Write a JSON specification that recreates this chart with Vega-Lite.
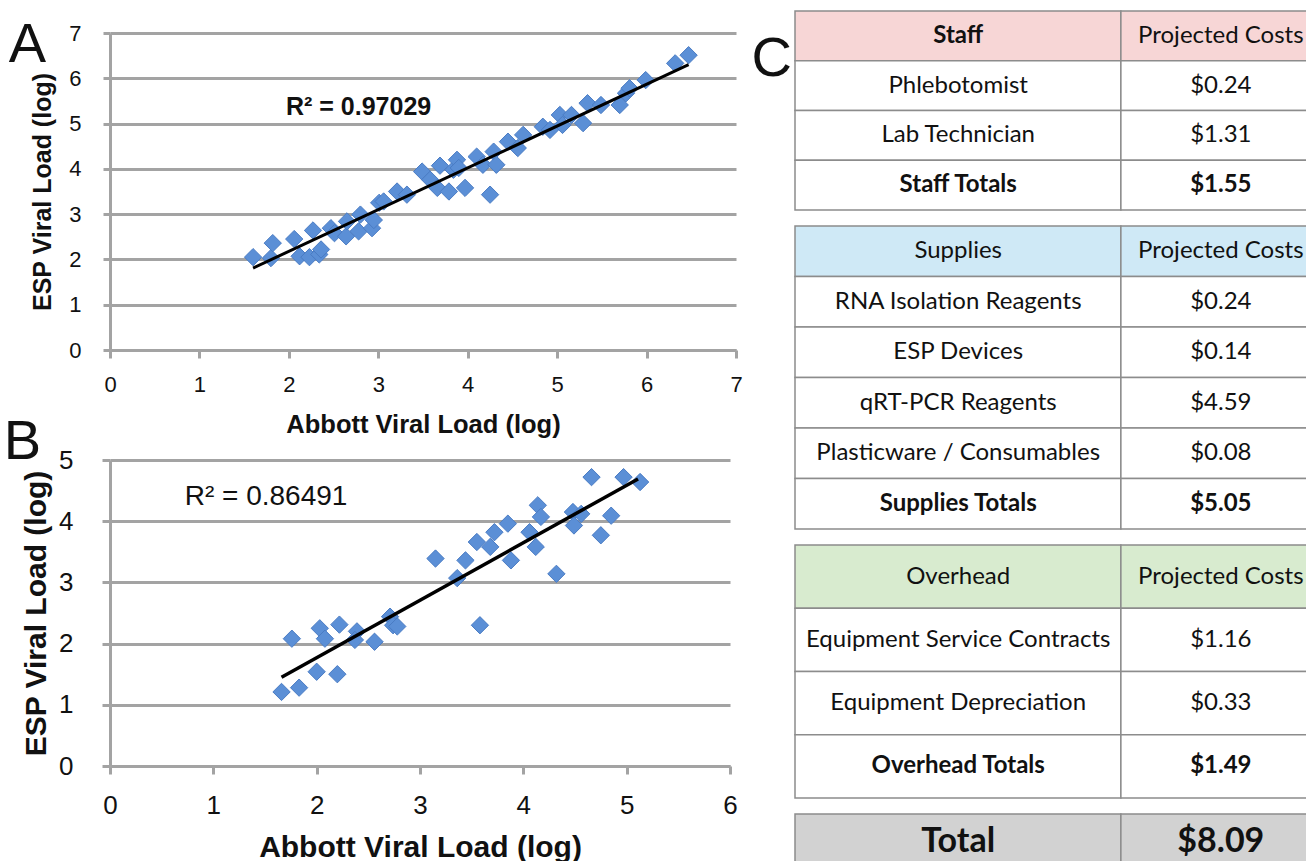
{
  "$schema": "https://vega.github.io/schema/vega-lite/v6.json",
  "background": "white",
  "padding": {"left": 3, "top": 10, "right": 0, "bottom": 0},
  "config": {"view": {"stroke": null}, "font": "Liberation Sans"},
  "datasets": {
    "A": [
      {"abbott": 1.60, "esp": 2.05}, {"abbott": 1.80, "esp": 2.03}, {"abbott": 1.82, "esp": 2.36}, {"abbott": 2.06, "esp": 2.45},
      {"abbott": 2.12, "esp": 2.07}, {"abbott": 2.23, "esp": 2.05}, {"abbott": 2.34, "esp": 2.11}, {"abbott": 2.27, "esp": 2.64},
      {"abbott": 2.36, "esp": 2.22}, {"abbott": 2.47, "esp": 2.69}, {"abbott": 2.51, "esp": 2.58}, {"abbott": 2.64, "esp": 2.51},
      {"abbott": 2.65, "esp": 2.84}, {"abbott": 2.78, "esp": 2.62}, {"abbott": 2.80, "esp": 2.99}, {"abbott": 2.93, "esp": 2.69},
      {"abbott": 2.95, "esp": 2.87}, {"abbott": 3.01, "esp": 3.25}, {"abbott": 3.06, "esp": 3.28}, {"abbott": 3.21, "esp": 3.50},
      {"abbott": 3.32, "esp": 3.43}, {"abbott": 3.49, "esp": 3.94}, {"abbott": 3.58, "esp": 3.76}, {"abbott": 3.66, "esp": 3.58},
      {"abbott": 3.69, "esp": 4.07}, {"abbott": 3.79, "esp": 3.50}, {"abbott": 3.84, "esp": 3.98}, {"abbott": 3.88, "esp": 4.20},
      {"abbott": 3.90, "esp": 4.02}, {"abbott": 3.97, "esp": 3.58}, {"abbott": 4.10, "esp": 4.27}, {"abbott": 4.17, "esp": 4.09},
      {"abbott": 4.25, "esp": 3.43}, {"abbott": 4.29, "esp": 4.38}, {"abbott": 4.32, "esp": 4.09}, {"abbott": 4.45, "esp": 4.60},
      {"abbott": 4.56, "esp": 4.46}, {"abbott": 4.62, "esp": 4.75}, {"abbott": 4.84, "esp": 4.93}, {"abbott": 4.92, "esp": 4.86},
      {"abbott": 5.03, "esp": 5.19}, {"abbott": 5.06, "esp": 4.97}, {"abbott": 5.16, "esp": 5.19}, {"abbott": 5.29, "esp": 5.01},
      {"abbott": 5.34, "esp": 5.45}, {"abbott": 5.49, "esp": 5.41}, {"abbott": 5.70, "esp": 5.41}, {"abbott": 5.77, "esp": 5.67},
      {"abbott": 5.81, "esp": 5.78}, {"abbott": 5.99, "esp": 5.96}, {"abbott": 6.32, "esp": 6.33}, {"abbott": 6.47, "esp": 6.51}
    ],
    "trendA": [{"abbott": 1.60, "esp": 1.81}, {"abbott": 6.47, "esp": 6.30}],
    "B": [
      {"abbott": 1.66, "esp": 1.21}, {"abbott": 1.83, "esp": 1.28}, {"abbott": 1.76, "esp": 2.08}, {"abbott": 2.00, "esp": 1.54},
      {"abbott": 2.03, "esp": 2.25}, {"abbott": 2.08, "esp": 2.08}, {"abbott": 2.20, "esp": 1.50}, {"abbott": 2.22, "esp": 2.31},
      {"abbott": 2.39, "esp": 2.20}, {"abbott": 2.37, "esp": 2.06}, {"abbott": 2.56, "esp": 2.03}, {"abbott": 2.71, "esp": 2.44},
      {"abbott": 2.74, "esp": 2.30}, {"abbott": 2.78, "esp": 2.28}, {"abbott": 3.15, "esp": 3.39}, {"abbott": 3.36, "esp": 3.07},
      {"abbott": 3.44, "esp": 3.36}, {"abbott": 3.55, "esp": 3.66}, {"abbott": 3.58, "esp": 2.30}, {"abbott": 3.68, "esp": 3.58},
      {"abbott": 3.72, "esp": 3.82}, {"abbott": 3.85, "esp": 3.96}, {"abbott": 3.88, "esp": 3.36}, {"abbott": 4.06, "esp": 3.82},
      {"abbott": 4.14, "esp": 4.26}, {"abbott": 4.17, "esp": 4.07}, {"abbott": 4.12, "esp": 3.58}, {"abbott": 4.32, "esp": 3.14},
      {"abbott": 4.48, "esp": 4.15}, {"abbott": 4.56, "esp": 4.12}, {"abbott": 4.49, "esp": 3.93}, {"abbott": 4.66, "esp": 4.72},
      {"abbott": 4.75, "esp": 3.77}, {"abbott": 4.85, "esp": 4.09}, {"abbott": 4.97, "esp": 4.72}, {"abbott": 5.13, "esp": 4.64}
    ],
    "trendB": [{"abbott": 1.66, "esp": 1.45}, {"abbott": 5.11, "esp": 4.69}],
    "costs": [
      {"section": "Staff", "row": 0, "item": "Staff", "cost": "Projected Costs"},
      {"section": "Staff", "row": 1, "item": "Phlebotomist", "cost": "$0.24"},
      {"section": "Staff", "row": 2, "item": "Lab Technician", "cost": "$1.31"},
      {"section": "Staff", "row": 3, "item": "Staff Totals", "cost": "$1.55"},
      {"section": "Supplies", "row": 0, "item": "Supplies", "cost": "Projected Costs"},
      {"section": "Supplies", "row": 1, "item": "RNA Isolation Reagents", "cost": "$0.24"},
      {"section": "Supplies", "row": 2, "item": "ESP Devices", "cost": "$0.14"},
      {"section": "Supplies", "row": 3, "item": "qRT-PCR Reagents", "cost": "$4.59"},
      {"section": "Supplies", "row": 4, "item": "Plasticware / Consumables", "cost": "$0.08"},
      {"section": "Supplies", "row": 5, "item": "Supplies Totals", "cost": "$5.05"},
      {"section": "Overhead", "row": 0, "item": "Overhead", "cost": "Projected Costs"},
      {"section": "Overhead", "row": 1, "item": "Equipment Service Contracts", "cost": "$1.16"},
      {"section": "Overhead", "row": 2, "item": "Equipment Depreciation", "cost": "$0.33"},
      {"section": "Overhead", "row": 3, "item": "Overhead Totals", "cost": "$1.49"},
      {"section": "Total", "row": 0, "item": "Total", "cost": "$8.09"}
    ]
  },
  "columns": 2,
  "align": "none",
  "spacing": 2,
  "concat": [
    {
      "columns": 1,
      "align": "none",
      "spacing": -25,
      "concat": [
        {
          "width": 626,
          "height": 317,
          "layer": [
            {
              "data": {"name": "A"},
              "mark": {"type": "point", "shape": "diamond", "filled": true, "size": 300, "fill": "#5b8fd6", "stroke": "#4a7cc4", "strokeWidth": 1, "opacity": 1},
              "encoding": {
                "x": {"field": "abbott", "type": "quantitative", "scale": {"domain": [0, 7]},
                  "axis": {"title": "Abbott Viral Load (log)", "values": [0, 1, 2, 3, 4, 5, 6, 7], "format": "d", "grid": false, "labelFlush": false, "labelOverlap": false,
                    "domainColor": "#a3a3a3", "domainWidth": 3, "tickColor": "#a3a3a3", "tickWidth": 3, "tickSize": 8,
                    "labelFontSize": 22, "labelColor": "#111", "labelPadding": 16, "titleFontSize": 25.5, "titleFontWeight": "bold", "titleColor": "#111", "titlePadding": 17}},
                "y": {"field": "esp", "type": "quantitative", "scale": {"domain": [0, 7]},
                  "axis": {"title": "ESP Viral Load (log)", "values": [0, 1, 2, 3, 4, 5, 6, 7], "format": "d", "grid": true, "gridColor": "#a3a3a3", "gridWidth": 3, "labelOverlap": false,
                    "domainColor": "#a3a3a3", "domainWidth": 3, "tickColor": "#a3a3a3", "tickWidth": 3, "tickSize": 7,
                    "labelFontSize": 22, "labelColor": "#111", "labelPadding": 22, "titleFontSize": 25, "titleFontWeight": "bold", "titleColor": "#111", "titlePadding": 13}}
              }
            },
            {
              "data": {"name": "trendA"},
              "mark": {"type": "line", "color": "black", "strokeWidth": 3},
              "encoding": {"x": {"field": "abbott", "type": "quantitative"}, "y": {"field": "esp", "type": "quantitative"}}
            },
            {
              "data": {"values": [{"label": "R² = 0.97029"}]},
              "mark": {"type": "text", "fontWeight": "bold", "fontSize": 25, "color": "#111", "baseline": "middle"},
              "encoding": {"x": {"datum": 2.78}, "y": {"datum": 5.37}, "text": {"field": "label"}}
            },
            {
              "data": {"values": [{"label": "A"}]},
              "mark": {"type": "text", "fontSize": 56, "color": "#111", "baseline": "alphabetic", "align": "center"},
              "encoding": {"x": {"datum": -0.922}, "y": {"datum": 6.37}, "text": {"field": "label"}}
            },
            {
              "data": {"values": [{"label": "C"}]},
              "mark": {"type": "text", "fontSize": 56, "color": "#111", "baseline": "alphabetic", "align": "center"},
              "encoding": {"x": {"datum": 7.40}, "y": {"datum": 6.04}, "text": {"field": "label"}}
            }
          ]
        },
        {
          "width": 620,
          "height": 306,
          "layer": [
            {
              "data": {"name": "B"},
              "mark": {"type": "point", "shape": "diamond", "filled": true, "size": 300, "fill": "#5b8fd6", "stroke": "#4a7cc4", "strokeWidth": 1, "opacity": 1},
              "encoding": {
                "x": {"field": "abbott", "type": "quantitative", "scale": {"domain": [0, 6]},
                  "axis": {"title": "Abbott Viral Load (log)", "values": [0, 1, 2, 3, 4, 5, 6], "format": "d", "grid": false, "labelFlush": false, "labelOverlap": false,
                    "domainColor": "#a3a3a3", "domainWidth": 3, "tickColor": "#a3a3a3", "tickWidth": 3, "tickSize": 8,
                    "labelFontSize": 26, "labelColor": "#111", "labelPadding": 18, "titleFontSize": 30, "titleFontWeight": "bold", "titleColor": "#111", "titlePadding": 14}},
                "y": {"field": "esp", "type": "quantitative", "scale": {"domain": [0, 5]},
                  "axis": {"title": "ESP Viral Load (log)", "values": [0, 1, 2, 3, 4, 5], "format": "d", "grid": true, "gridColor": "#a3a3a3", "gridWidth": 3, "labelOverlap": false,
                    "domainColor": "#a3a3a3", "domainWidth": 3, "tickColor": "#a3a3a3", "tickWidth": 3, "tickSize": 8,
                    "labelFontSize": 26, "labelColor": "#111", "labelPadding": 29, "titleFontSize": 30, "titleFontWeight": "bold", "titleColor": "#111", "titlePadding": 7}}
              }
            },
            {
              "data": {"name": "trendB"},
              "mark": {"type": "line", "color": "black", "strokeWidth": 3.5},
              "encoding": {"x": {"field": "abbott", "type": "quantitative"}, "y": {"field": "esp", "type": "quantitative"}}
            },
            {
              "data": {"values": [{"label": "R² = 0.86491"}]},
              "mark": {"type": "text", "fontSize": 28, "color": "#111", "baseline": "middle"},
              "encoding": {"x": {"datum": 1.51}, "y": {"datum": 4.39}, "text": {"field": "label"}}
            },
            {
              "data": {"values": [{"label": "B"}]},
              "mark": {"type": "text", "fontSize": 56, "color": "#111", "baseline": "alphabetic", "align": "center"},
              "encoding": {"x": {"datum": -0.847}, "y": {"datum": 5.02}, "text": {"field": "label"}}
            }
          ]
        }
      ]
    },
    {
      "spacing": 14,
      "vconcat": [
        {
          "width": 510,
          "height": 177,
          "data": {"name": "costs"},
          "transform": [{"filter": {"field": "section", "equal": "Staff"}}],
          "encoding": {"y": {"field": "row", "type": "ordinal", "axis": null, "scale": {"paddingInner": 0, "paddingOuter": 0, "range": [-22, 177]}}},
          "layer": [
            {"mark": {"type": "rect", "stroke": "#8c8c8c", "strokeWidth": 1.5},
             "encoding": {"x": {"datum": 0, "scale": {"domain": [0, 100]}, "axis": null}, "x2": {"datum": 63.9},
               "fill": {"condition": {"test": "datum.row === 0", "value": "#f7d6d6"}, "value": "white"}}},
            {"mark": {"type": "rect", "stroke": "#8c8c8c", "strokeWidth": 1.5},
             "encoding": {"x": {"datum": 63.9}, "x2": {"datum": 101},
               "fill": {"condition": {"test": "datum.row === 0", "value": "#f7d6d6"}, "value": "white"}}},
            {"transform": [{"filter": {"not": {"field": "item", "oneOf": ["Staff", "Staff Totals"]}}}],
             "mark": {"type": "text", "font": "Lato", "fontSize": 24, "color": "#111"},
             "encoding": {"x": {"datum": 32}, "text": {"field": "item"}}},
            {"transform": [{"filter": {"field": "item", "oneOf": ["Staff", "Staff Totals"]}}],
             "mark": {"type": "text", "font": "Lato", "fontSize": 24, "fontWeight": "bold", "color": "#111"},
             "encoding": {"x": {"datum": 32}, "text": {"field": "item"}}},
            {"transform": [{"filter": {"not": {"field": "cost", "equal": "$1.55"}}}],
             "mark": {"type": "text", "font": "Lato", "fontSize": 24, "color": "#111"},
             "encoding": {"x": {"datum": 83.5}, "text": {"field": "cost"}}},
            {"transform": [{"filter": {"field": "cost", "equal": "$1.55"}}],
             "mark": {"type": "text", "font": "Lato", "fontSize": 24, "fontWeight": "bold", "color": "#111"},
             "encoding": {"x": {"datum": 83.5}, "text": {"field": "cost"}}}
          ]
        },
        {
          "width": 510,
          "height": 303,
          "data": {"name": "costs"},
          "transform": [{"filter": {"field": "section", "equal": "Supplies"}}],
          "encoding": {"y": {"field": "row", "type": "ordinal", "axis": null, "scale": {"paddingInner": 0, "paddingOuter": 0}}},
          "layer": [
            {"mark": {"type": "rect", "stroke": "#8c8c8c", "strokeWidth": 1.5},
             "encoding": {"x": {"datum": 0, "scale": {"domain": [0, 100]}, "axis": null}, "x2": {"datum": 63.9},
               "fill": {"condition": {"test": "datum.row === 0", "value": "#cfe9f6"}, "value": "white"}}},
            {"mark": {"type": "rect", "stroke": "#8c8c8c", "strokeWidth": 1.5},
             "encoding": {"x": {"datum": 63.9}, "x2": {"datum": 101},
               "fill": {"condition": {"test": "datum.row === 0", "value": "#cfe9f6"}, "value": "white"}}},
            {"transform": [{"filter": {"not": {"field": "item", "equal": "Supplies Totals"}}}],
             "mark": {"type": "text", "font": "Lato", "fontSize": 24, "color": "#111"},
             "encoding": {"x": {"datum": 32}, "text": {"field": "item"}}},
            {"transform": [{"filter": {"field": "item", "equal": "Supplies Totals"}}],
             "mark": {"type": "text", "font": "Lato", "fontSize": 24, "fontWeight": "bold", "color": "#111"},
             "encoding": {"x": {"datum": 32}, "text": {"field": "item"}}},
            {"transform": [{"filter": {"not": {"field": "cost", "equal": "$5.05"}}}],
             "mark": {"type": "text", "font": "Lato", "fontSize": 24, "color": "#111"},
             "encoding": {"x": {"datum": 83.5}, "text": {"field": "cost"}}},
            {"transform": [{"filter": {"field": "cost", "equal": "$5.05"}}],
             "mark": {"type": "text", "font": "Lato", "fontSize": 24, "fontWeight": "bold", "color": "#111"},
             "encoding": {"x": {"datum": 83.5}, "text": {"field": "cost"}}}
          ]
        },
        {
          "width": 510,
          "height": 253,
          "data": {"name": "costs"},
          "transform": [{"filter": {"field": "section", "equal": "Overhead"}}],
          "encoding": {"y": {"field": "row", "type": "ordinal", "axis": null, "scale": {"paddingInner": 0, "paddingOuter": 0}}},
          "layer": [
            {"mark": {"type": "rect", "stroke": "#8c8c8c", "strokeWidth": 1.5},
             "encoding": {"x": {"datum": 0, "scale": {"domain": [0, 100]}, "axis": null}, "x2": {"datum": 63.9},
               "fill": {"condition": {"test": "datum.row === 0", "value": "#d8ebcf"}, "value": "white"}}},
            {"mark": {"type": "rect", "stroke": "#8c8c8c", "strokeWidth": 1.5},
             "encoding": {"x": {"datum": 63.9}, "x2": {"datum": 101},
               "fill": {"condition": {"test": "datum.row === 0", "value": "#d8ebcf"}, "value": "white"}}},
            {"transform": [{"filter": {"not": {"field": "item", "equal": "Overhead Totals"}}}],
             "mark": {"type": "text", "font": "Lato", "fontSize": 24, "color": "#111"},
             "encoding": {"x": {"datum": 32}, "text": {"field": "item"}}},
            {"transform": [{"filter": {"field": "item", "equal": "Overhead Totals"}}],
             "mark": {"type": "text", "font": "Lato", "fontSize": 24, "fontWeight": "bold", "color": "#111"},
             "encoding": {"x": {"datum": 32}, "text": {"field": "item"}}},
            {"transform": [{"filter": {"not": {"field": "cost", "equal": "$1.49"}}}],
             "mark": {"type": "text", "font": "Lato", "fontSize": 24, "color": "#111"},
             "encoding": {"x": {"datum": 83.5}, "text": {"field": "cost"}}},
            {"transform": [{"filter": {"field": "cost", "equal": "$1.49"}}],
             "mark": {"type": "text", "font": "Lato", "fontSize": 24, "fontWeight": "bold", "color": "#111"},
             "encoding": {"x": {"datum": 83.5}, "text": {"field": "cost"}}}
          ]
        },
        {
          "width": 510,
          "height": 48,
          "data": {"name": "costs"},
          "transform": [{"filter": {"field": "section", "equal": "Total"}}],
          "encoding": {"y": {"field": "row", "type": "ordinal", "axis": null, "scale": {"paddingInner": 0, "paddingOuter": 0}}},
          "layer": [
            {"mark": {"type": "rect", "stroke": "#8c8c8c", "strokeWidth": 1.5, "fill": "#d2d2d2"},
             "encoding": {"x": {"datum": 0, "scale": {"domain": [0, 100]}, "axis": null}, "x2": {"datum": 63.9}}},
            {"mark": {"type": "rect", "stroke": "#8c8c8c", "strokeWidth": 1.5, "fill": "#d2d2d2"},
             "encoding": {"x": {"datum": 63.9}, "x2": {"datum": 101}}},
            {"mark": {"type": "text", "font": "Lato", "fontSize": 34, "fontWeight": "bold", "color": "#111", "dy": 4},
             "encoding": {"x": {"datum": 32}, "text": {"field": "item"}}},
            {"mark": {"type": "text", "font": "Lato", "fontSize": 34, "fontWeight": "bold", "color": "#111", "dy": 4},
             "encoding": {"x": {"datum": 83.5}, "text": {"field": "cost"}}}
          ]
        }
      ]
    }
  ]
}
